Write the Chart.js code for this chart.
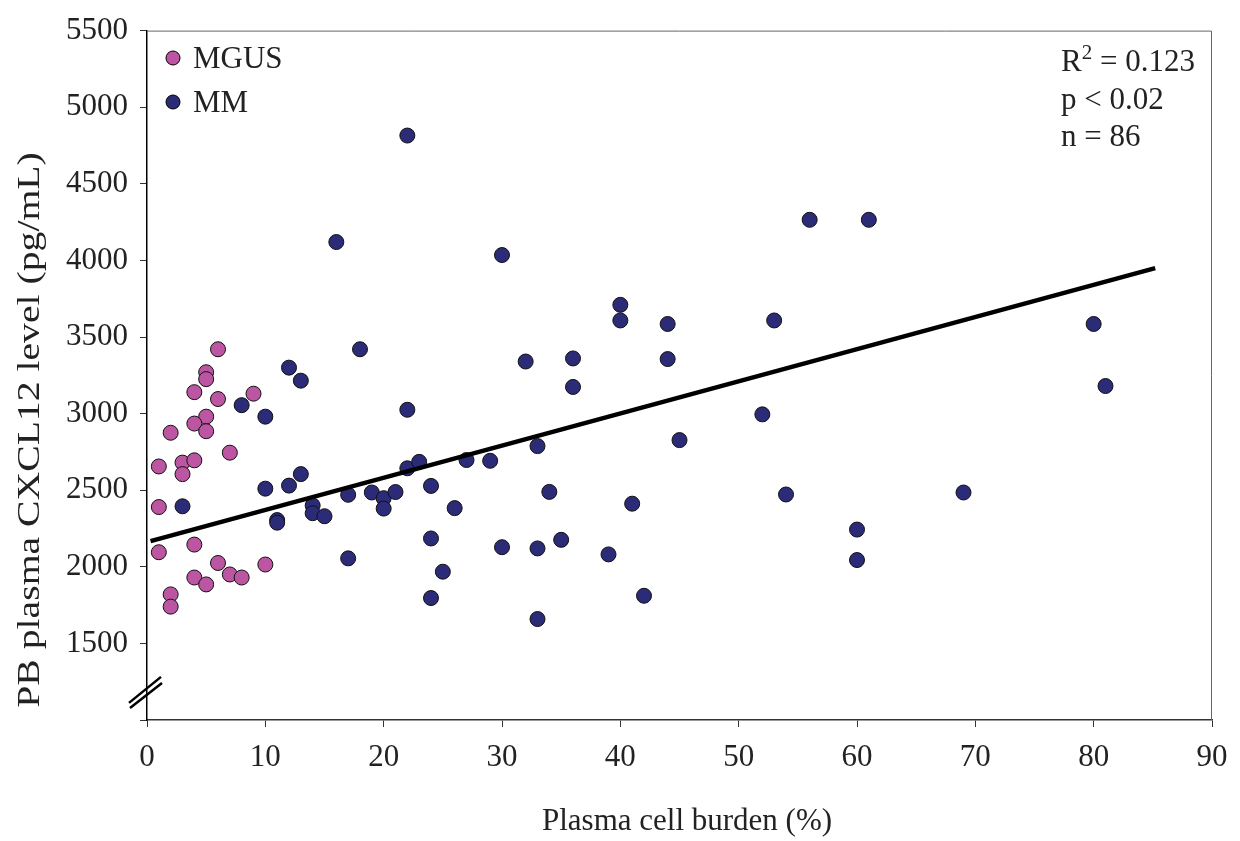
<!DOCTYPE html>
<html>
<head>
<meta charset="utf-8">
<script src="https://cdn.jsdelivr.net/npm/chart.js@4/dist/chart.umd.min.js"></script>
<style>
  html, body { margin: 0; padding: 0; background: #fff; }
  #wrap { width: 1240px; height: 841px; }
</style>
</head>
<body>
<div id="wrap"><canvas id="chart"></canvas></div>
<script>
// MGUS patients
const mgusX = [6, 5, 5, 4, 6, 9, 5, 4, 5, 2, 7, 1, 3, 4, 3, 1, 1, 4, 6, 10, 4, 5, 7, 8, 2, 2]
const mgusY = [3420, 3270, 3225, 3140, 3095, 3130, 2980, 2935, 2885, 2875, 2745, 2655, 2680, 2695, 2605, 2390, 2095, 2145, 2025, 2015, 1930, 1885, 1950, 1930, 1820, 1740]

// MM patients
const mmX = [3, 8, 10, 10, 11, 11, 12, 12, 13, 13, 14, 14, 15, 16, 17, 17, 18, 19, 20, 20,
             21, 22, 22, 22, 23, 24, 24, 24, 25, 26, 27, 29, 30, 30, 32, 33, 33, 33, 34, 35,
             36, 36, 39, 40, 40, 41, 42, 44, 44, 45, 52, 53, 54, 56, 60, 60, 61, 69, 80, 81]
const mmY = [2395, 3055, 2980, 2510, 2305, 2288, 3300, 2530, 3215, 2605, 2400, 2350, 2330, 4120, 2470, 2055, 3420, 2485, 2448, 2380,
             2488, 4815, 3025, 2643, 2685, 2528, 2185, 1796, 1968, 2383, 2697, 2692, 4035, 2128, 3340, 2788, 2120, 1659, 2489, 2176,
             3360, 3174, 2081, 3710, 3608, 2412, 1811, 3585, 3356, 2827, 2995, 3608, 2472, 4265, 2243, 2044, 4265, 2485, 3585, 3180]

// regression line end points
const fitX = [0.3, 85.2]
const fitY = [2168, 3950]

const yTicks = [1000, 1500, 2000, 2500, 3000, 3500, 4000, 4500, 5000, 5500]
const xTicks = [0, 10, 20, 30, 40, 50, 60, 70, 80, 90]

const serif = '"Liberation Serif", "Times New Roman", serif'
const pink = '#bd56a2'
const navy = '#2b2b78'

const pts = (xs, ys) => xs.map((x, i) => ({ x, y: ys[i] }))

const extras = {
    id: 'extras',
    afterDraw(chart) {
        const { ctx, chartArea: a, scales } = chart
        ctx.save()

        // top and right frame
        ctx.strokeStyle = '#666'
        ctx.lineWidth = 1
        ctx.beginPath()
        ctx.moveTo(a.left, a.top + 0.5)
        ctx.lineTo(a.right - 0.5, a.top + 0.5)
        ctx.lineTo(a.right - 0.5, a.bottom)
        ctx.stroke()

        // axis break marks
        const bx = a.left
        const by = scales.y.getPixelForValue(1190)
        ctx.strokeStyle = '#000'
        ctx.lineWidth = 2.5
        ctx.beginPath()
        ctx.moveTo(bx - 18, by + 12)
        ctx.lineTo(bx + 14, by - 14)
        ctx.moveTo(bx - 17, by + 17)
        ctx.lineTo(bx + 15, by - 8)
        ctx.stroke()

        // legend
        ctx.font = '31px ' + serif
        ctx.textBaseline = 'middle'
        ctx.textAlign = 'left'
        const legend = [['MGUS', pink, 58], ['MM', navy, 102]]
        legend.forEach(([label, col, y]) => {
            ctx.beginPath()
            ctx.arc(173, y, 7, 0, Math.PI * 2)
            ctx.fillStyle = col
            ctx.fill()
            ctx.lineWidth = 1
            ctx.strokeStyle = '#000'
            ctx.stroke()
            ctx.fillStyle = '#222'
            ctx.fillText(label, 193, y + 2)
        })

        // statistics
        ctx.fillStyle = '#222'
        ctx.fillText('R', 1061, 63)
        let w = ctx.measureText('R').width
        ctx.font = '21px ' + serif
        ctx.fillText('2', 1061 + w, 53)
        w += ctx.measureText('2').width
        ctx.font = '31px ' + serif
        ctx.fillText(' = 0.123', 1061 + w, 63)
        ctx.fillText('p < 0.02', 1061, 101)
        ctx.fillText('n = 86', 1061, 138)

        // axis titles
        ctx.textAlign = 'center'
        ctx.fillText('Plasma cell burden (%)', 687, 822)
        ctx.translate(31, 430)
        ctx.rotate(-Math.PI / 2)
        ctx.scale(1.28, 1)
        ctx.fillText('PB plasma CXCL12 level (pg/mL)', 0, 0)

        ctx.restore()
    }
}

new Chart(document.getElementById('chart'), {
    type: 'scatter',
    data: {
        datasets: [
            {
                label: 'fit',
                data: pts(fitX, fitY),
                showLine: true,
                borderColor: '#000',
                borderWidth: 4.5,
                pointRadius: 0,
                order: 0
            },
            {
                label: 'MGUS',
                data: pts(mgusX, mgusY),
                backgroundColor: pink,
                borderColor: '#111',
                borderWidth: 1,
                pointRadius: 7.5,
                order: 1
            },
            {
                label: 'MM',
                data: pts(mmX, mmY),
                backgroundColor: navy,
                borderColor: '#111',
                borderWidth: 1,
                pointRadius: 7.5,
                order: 2
            }
        ]
    },
    options: {
        responsive: true,
        maintainAspectRatio: false,
        animation: false,
        layout: { padding: { top: 24, right: 28, left: 0, bottom: 0 } },
        plugins: {
            legend: { display: false },
            tooltip: { enabled: false }
        },
        scales: {
            x: {
                type: 'linear',
                min: 0,
                max: 90,
                afterFit: s => { s.height = 121 },
                afterBuildTicks: s => { s.ticks = xTicks.map(v => ({ value: v })) },
                border: { color: '#333', width: 1.5 },
                grid: { drawOnChartArea: false, tickLength: 7, tickColor: '#333' },
                ticks: {
                    color: '#222',
                    padding: 12,
                    font: { family: serif, size: 31 }
                }
            },
            y: {
                type: 'linear',
                min: 1000,
                max: 5500,
                afterFit: s => { s.width = 147 },
                afterBuildTicks: s => { s.ticks = yTicks.map(v => ({ value: v })) },
                border: { color: '#000', width: 1.5 },
                grid: { drawOnChartArea: false, tickLength: 7, tickColor: '#333' },
                ticks: {
                    color: '#222',
                    padding: 12,
                    font: { family: serif, size: 31 },
                    callback: v => v === 1000 ? '' : String(v)
                }
            }
        }
    },
    plugins: [extras]
})
</script>
</body>
</html>
